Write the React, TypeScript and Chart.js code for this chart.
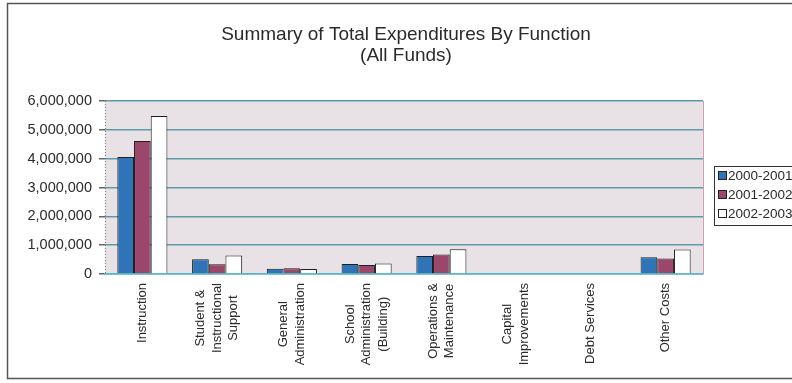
import React, { useEffect, useRef } from "react";
import { Chart, registerables } from "chart.js";

Chart.register(...registerables);

const titleLines = ["Summary of Total Expenditures By Function", "(All Funds)"];

const categories: string[][] = [
  ["Instruction"],
  ["Student &", "Instructional", "Support"],
  ["General", "Administration"],
  ["School", "Administration", "(Building)"],
  ["Operations &", "Maintenance"],
  ["Capital", "Improvements"],
  ["Debt Services"],
  ["Other Costs"],
];

const seriesNames = ["2000-2001", "2001-2002", "2002-2003"];

const fy2001 = [4060000, 510000, 180000, 350000, 620000, 0, 0, 580000];
const fy2002 = [4610000, 340000, 200000, 310000, 680000, 0, 0, 540000];
const fy2003 = [5480000, 640000, 170000, 360000, 860000, 0, 0, 850000];

const yMax = 6000000;
const yStep = 1000000;

const seriesColors = ["#2f74b6", "#9a476b", "#ffffff"];
const FONT = '"Liberation Sans", Arial, Helvetica, sans-serif';
const CAT_FONT_SIZE = 13;
const CAT_LINE = 16.5;

const framePlugin = {
  id: "frameAndDecor",
  beforeDraw(chart: any) {
    const { ctx, chartArea } = chart;
    ctx.save();
    ctx.fillStyle = "#ffffff";
    ctx.fillRect(0, 0, chart.width, chart.height);
    // plot background
    ctx.fillStyle = "#e8e2e7";
    ctx.fillRect(chartArea.left, chartArea.top, chartArea.right - chartArea.left, chartArea.bottom - chartArea.top);
    ctx.restore();
  },
  afterDraw(chart: any) {
    const { ctx, chartArea } = chart;
    const xScale = chart.scales.x;
    ctx.save();
    // right edge of plot area
    ctx.strokeStyle = "#c9a2b4";
    ctx.lineWidth = 1;
    ctx.beginPath();
    ctx.moveTo(chartArea.right + 0.5, chartArea.top);
    ctx.lineTo(chartArea.right + 0.5, chartArea.bottom);
    ctx.stroke();

    // dotted value axis
    ctx.strokeStyle = "#777777";
    ctx.setLineDash([1, 2]);
    ctx.beginPath();
    ctx.moveTo(chartArea.left + 0.5, chartArea.top);
    ctx.lineTo(chartArea.left + 0.5, chartArea.bottom);
    ctx.stroke();
    ctx.setLineDash([]);

    // category labels, rotated, lines centred on the tick
    ctx.fillStyle = "#2b2b2b";
    ctx.font = `${CAT_FONT_SIZE}px ${FONT}`;
    ctx.textAlign = "center";
    ctx.textBaseline = "middle";
    const top = chartArea.bottom + 9;
    categories.forEach((lines, i) => {
      const x = xScale.getPixelForValue(i);
      const maxW = Math.max(...lines.map((l) => ctx.measureText(l).width));
      lines.forEach((line, j) => {
        const cx = x + (j - (lines.length - 1) / 2) * CAT_LINE;
        ctx.save();
        ctx.translate(cx, top + maxW / 2);
        ctx.rotate(-Math.PI / 2);
        ctx.fillText(line, 0, 0);
        ctx.restore();
      });
    });

    // outer frame
    ctx.strokeStyle = "#555555";
    ctx.lineWidth = 1.5;
    ctx.beginPath();
    ctx.moveTo(chart.width + 5, 3.5);
    ctx.lineTo(7.5, 3.5);
    ctx.lineTo(7.5, 378.5);
    ctx.lineTo(chart.width + 5, 378.5);
    ctx.stroke();

    // title
    ctx.fillStyle = "#2b2b2b";
    ctx.font = `19px ${FONT}`;
    ctx.textAlign = "center";
    ctx.textBaseline = "middle";
    ctx.fillText(titleLines[0], 406, 35);
    ctx.fillText(titleLines[1], 406, 56);

    // legend
    const lx = 714.5, ly = 166.5, lw = 80, lh = 59;
    ctx.fillStyle = "#ffffff";
    ctx.fillRect(lx, ly, lw, lh);
    ctx.strokeStyle = "#333333";
    ctx.lineWidth = 1;
    ctx.strokeRect(lx, ly, lw, lh);
    ctx.font = `13.5px ${FONT}`;
    ctx.textAlign = "left";
    chart.data.datasets.forEach((ds: any, i: number) => {
      const cy = 176 + i * 19;
      ctx.fillStyle = ds.backgroundColor;
      ctx.fillRect(718.5, cy - 4.5, 8, 8);
      ctx.strokeStyle = "#222222";
      ctx.strokeRect(718.5, cy - 4.5, 8, 8);
      ctx.fillStyle = "#2b2b2b";
      ctx.fillText(ds.label, 728, cy);
    });
    ctx.restore();
  },
};

export default function App() {
  const canvasRef = useRef<HTMLCanvasElement | null>(null);

  useEffect(() => {
    document.body.style.margin = "0";
    const canvas = canvasRef.current;
    if (!canvas) return;
    const datasets = [fy2001, fy2002, fy2003].map((data, i) => ({
      label: seriesNames[i],
      data,
      backgroundColor: seriesColors[i],
      borderColor: "#1e1e1e",
      borderWidth: 1,
      barPercentage: 1,
      categoryPercentage: 0.67,
    }));
    const chart = new Chart(canvas, {
      type: "bar",
      data: { labels: categories.map((c) => c.join(" ")), datasets },
      options: {
        responsive: false,
        animation: false,
        devicePixelRatio: 1,
        layout: { padding: { left: 0, right: 89, top: 101, bottom: 0 } },
        plugins: {
          legend: { display: false },
          title: { display: false },
          tooltip: { enabled: false },
        },
        scales: {
          x: {
            grid: { display: false },
            border: { display: true, color: "#55b6c8", width: 1.5 },
            ticks: { display: false },
            afterFit(scale: any) {
              scale.height = 109;
            },
          },
          y: {
            min: 0,
            max: yMax,
            ticks: {
              stepSize: yStep,
              color: "#2b2b2b",
              font: { family: FONT, size: 14.5 },
              padding: 7,
              callback: (v: any) => Number(v).toLocaleString("en-US"),
            },
            grid: {
              color: "#5f9ba6",
              lineWidth: 1.5,
              tickLength: 6,
              tickColor: "#666666",
            },
            border: { display: false },
            afterFit(scale: any) {
              scale.width = 105;
            },
          },
        },
      },
      plugins: [framePlugin],
    });
    return () => chart.destroy();
  }, []);

  return (
    <div style={{ width: 792, height: 383, position: "relative" }}>
      <canvas ref={canvasRef} width={792} height={383} />
    </div>
  );
}
